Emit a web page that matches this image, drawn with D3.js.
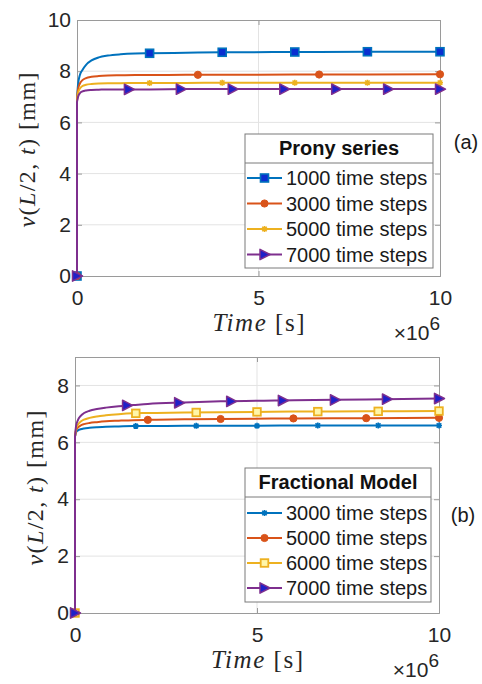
<!DOCTYPE html>
<html><head><meta charset="utf-8">
<script src="https://cdn.jsdelivr.net/npm/d3@7"></script>
<style>body{margin:0;background:#fff}svg{display:block}</style>
</head><body>
<svg id="c" width="482" height="684"></svg>
<script>
// ---------- shared ----------
const tCurve = [0, 0.03, 0.08, 0.15, 0.25, 0.4, 0.6, 0.85, 1.2, 1.6, 2, 3, 4, 6, 8, 10];
const xTicks = [0, 5, 10];
const colors = ["#0072BD", "#D95319", "#EDB120", "#7E2F8E"];

// ---------- panel (a): Prony series ----------
const pronyTitle = "Prony series";
const pronyLabels = ["1000 time steps", "3000 time steps", "5000 time steps", "7000 time steps"];
const pronyYTicks = [0, 2, 4, 6, 8, 10];
const prony1000 = [6.95, 7.50, 7.85, 8.05, 8.25, 8.42, 8.54, 8.61, 8.66, 8.69, 8.70, 8.72, 8.74, 8.75, 8.76, 8.76];
const prony3000 = [6.90, 7.30, 7.52, 7.65, 7.73, 7.78, 7.81, 7.83, 7.84, 7.85, 7.85, 7.86, 7.86, 7.87, 7.87, 7.88];
const prony5000 = [6.85, 7.15, 7.32, 7.42, 7.47, 7.50, 7.52, 7.53, 7.53, 7.54, 7.54, 7.54, 7.55, 7.55, 7.55, 7.55];
const prony7000 = [6.80, 7.00, 7.14, 7.21, 7.25, 7.27, 7.28, 7.29, 7.29, 7.29, 7.29, 7.30, 7.30, 7.30, 7.30, 7.30];
const pronyMarkT1000 = [0, 2, 4, 6, 8, 10];
const pronyMarkV1000 = [0, 8.70, 8.74, 8.75, 8.76, 8.76];
const pronyMarkT3000 = [0, 3.33, 6.67, 10];
const pronyMarkV3000 = [0, 7.86, 7.87, 7.88];
const pronyMarkT5000 = [0, 2, 4, 6, 8, 10];
const pronyMarkV5000 = [0, 7.54, 7.55, 7.55, 7.55, 7.55];
const pronyMarkT7000 = [0, 1.43, 2.86, 4.29, 5.71, 7.14, 8.57, 10];
const pronyMarkV7000 = [0, 7.29, 7.30, 7.30, 7.30, 7.30, 7.30, 7.30];

// ---------- panel (b): Fractional model ----------
const fracTitle = "Fractional Model";
const fracLabels = ["3000 time steps", "5000 time steps", "6000 time steps", "7000 time steps"];
const fracYTicks = [0, 2, 4, 6, 8];
const frac3000 = [6.20, 6.35, 6.42, 6.46, 6.49, 6.51, 6.53, 6.55, 6.56, 6.57, 6.57, 6.58, 6.58, 6.59, 6.59, 6.59];
const frac5000 = [6.20, 6.42, 6.52, 6.59, 6.64, 6.68, 6.71, 6.74, 6.76, 6.78, 6.79, 6.81, 6.82, 6.84, 6.85, 6.86];
const frac6000 = [6.20, 6.48, 6.62, 6.72, 6.80, 6.86, 6.91, 6.95, 6.99, 7.02, 7.03, 7.05, 7.06, 7.08, 7.09, 7.10];
const frac7000 = [6.20, 6.58, 6.78, 6.92, 7.03, 7.11, 7.17, 7.22, 7.27, 7.31, 7.35, 7.40, 7.44, 7.48, 7.51, 7.54];
const fracMarkT3000 = [0, 1.67, 3.33, 5, 6.67, 8.33, 10];
const fracMarkV3000 = [0, 6.57, 6.58, 6.58, 6.59, 6.59, 6.59];
const fracMarkT5000 = [0, 2, 4, 6, 8, 10];
const fracMarkV5000 = [0, 6.79, 6.82, 6.84, 6.85, 6.86];
const fracMarkT6000 = [0, 1.67, 3.33, 5, 6.67, 8.33, 10];
const fracMarkV6000 = [0, 7.02, 7.05, 7.07, 7.08, 7.09, 7.10];
const fracMarkT7000 = [0, 1.43, 2.86, 4.29, 5.71, 7.14, 8.57, 10];
const fracMarkV7000 = [0, 7.30, 7.39, 7.44, 7.47, 7.49, 7.52, 7.54];

const svg = d3.select("#c");
const SANS = "'Liberation Sans', Arial, sans-serif";
const SERIF = "'Liberation Serif', 'Times New Roman', serif";

function marker(g, type, x, y, color) {
  if (type === "square") {
    g.append("rect").attr("x", x - 4).attr("y", y - 4).attr("width", 8).attr("height", 8)
      .attr("fill", "#0a2fd0").attr("stroke", color).attr("stroke-width", 1.6);
  } else if (type === "squareOpen") {
    g.append("rect").attr("x", x - 3.8).attr("y", y - 3.8).attr("width", 7.6).attr("height", 7.6)
      .attr("fill", "#fff6a8").attr("stroke", color).attr("stroke-width", 1.8);
  } else if (type === "circle") {
    g.append("circle").attr("cx", x).attr("cy", y).attr("r", 3.6).attr("fill", color).attr("stroke", color);
  } else if (type === "star") {
    const s = 3;
    g.append("path").attr("d", `M${x - s},${y}L${x + s},${y}M${x},${y - s}L${x},${y + s}M${x - s * 0.75},${y - s * 0.75}L${x + s * 0.75},${y + s * 0.75}M${x - s * 0.75},${y + s * 0.75}L${x + s * 0.75},${y - s * 0.75}`)
      .attr("stroke", color).attr("stroke-width", 1.6).attr("fill", "none");
  } else if (type === "triangle") {
    g.append("path").attr("d", `M${x - 4.5},${y - 5.2}L${x + 5.5},${y}L${x - 4.5},${y + 5.2}Z`)
      .attr("fill", "#2020c8").attr("stroke", color).attr("stroke-width", 1.5).attr("stroke-linejoin", "round");
  }
}

function panel(cfg) {
  const x = d3.scaleLinear().domain([0, 10]).range([cfg.left, cfg.right]);
  const y = d3.scaleLinear().domain([0, cfg.ymax]).range([cfg.bottom, cfg.top]);
  const g = svg.append("g");

  // grid
  g.selectAll(".gy").data(cfg.yTicks.filter(v => v > 0 && v < cfg.ymax)).enter().append("line")
    .attr("x1", cfg.left).attr("x2", cfg.right).attr("y1", d => y(d)).attr("y2", d => y(d))
    .attr("stroke", "#e3e3e3").attr("stroke-width", 1);
  g.selectAll(".gx").data(xTicks.filter(v => v > 0 && v < 10)).enter().append("line")
    .attr("y1", cfg.top).attr("y2", cfg.bottom).attr("x1", d => x(d)).attr("x2", d => x(d))
    .attr("stroke", "#e3e3e3").attr("stroke-width", 1);

  // axes (tick labels via d3 axes)
  const ax = g.append("g").attr("transform", `translate(0,${cfg.bottom})`)
    .call(d3.axisBottom(x).tickValues(xTicks).tickSize(-5).tickPadding(14).tickFormat(d3.format("d")));
  const ay = g.append("g").attr("transform", `translate(${cfg.left},0)`)
    .call(d3.axisLeft(y).tickValues(cfg.yTicks).tickSize(-5).tickPadding(6).tickFormat(d3.format("d")));
  const axT = g.append("g").attr("transform", `translate(0,${cfg.top})`)
    .call(d3.axisTop(x).tickValues(xTicks).tickSize(-5).tickFormat(""));
  const ayR = g.append("g").attr("transform", `translate(${cfg.right},0)`)
    .call(d3.axisRight(y).tickValues(cfg.yTicks).tickSize(-5).tickFormat(""));
  [ax, ay, axT, ayR].forEach(a => {
    a.select(".domain").attr("stroke", "#9a9a9a").attr("stroke-width", 1);
    a.selectAll(".tick line").attr("stroke", "#9a9a9a");
    a.selectAll("text").attr("font-family", SANS).attr("font-size", 21).attr("fill", "#262626");
  });

  // series
  const line = d3.line().x(d => x(d[0])).y(d => y(d[1])).curve(d3.curveMonotoneX);
  cfg.series.forEach((s, i) => {
    const pts = tCurve.map((t, k) => [t, s.v[k]]);
    const p = line(pts);
    g.append("path").attr("d", `M${x(0)},${y(0)}` + p.replace(/^M/, "L"))
      .attr("fill", "none").attr("stroke", colors[i]).attr("stroke-width", 2);
    s.mt.forEach((t, k) => marker(g, s.m, x(t), y(s.mv[k]), colors[i]));
  });

  // legend
  const L = cfg.legend;
  const lg = g.append("g");
  lg.append("rect").attr("x", L.x0).attr("y", L.y0).attr("width", L.x1 - L.x0).attr("height", L.y1 - L.y0)
    .attr("fill", "#fff").attr("stroke", "#7a7a7a").attr("stroke-width", 1);
  lg.append("line").attr("x1", L.x0).attr("x2", L.x1).attr("y1", L.sep).attr("y2", L.sep)
    .attr("stroke", "#7a7a7a").attr("stroke-width", 1);
  lg.append("text").attr("x", (L.x0 + L.x1) / 2).attr("y", L.titleY).attr("text-anchor", "middle")
    .attr("font-family", SANS).attr("font-weight", "bold").attr("font-size", 20).attr("fill", "#111")
    .text(L.title);
  cfg.series.forEach((s, i) => {
    const cy = L.row0 + i * L.dy;
    lg.append("line").attr("x1", L.x0 + 2).attr("x2", L.x0 + 37).attr("y1", cy).attr("y2", cy)
      .attr("stroke", colors[i]).attr("stroke-width", 2);
    marker(lg, s.m, L.x0 + 19.5, cy, colors[i]);
    lg.append("text").attr("x", L.x0 + 41).attr("y", cy).attr("dy", "0.36em")
      .attr("font-family", SANS).attr("font-size", 20).attr("fill", "#1a1a1a").text(L.labels[i]);
  });

  // y label
  const yl = g.append("text").attr("transform", `translate(${cfg.ylx},${(cfg.top + cfg.bottom) / 2 + cfg.ylShift}) rotate(-90)`)
    .attr("text-anchor", "middle").attr("dy", "0.32em").attr("font-family", SERIF).attr("font-size", 24)
    .attr("fill", "#262626").attr("textLength", 155).attr("lengthAdjust", "spacing");
  yl.append("tspan").attr("font-style", "italic").text("v");
  yl.append("tspan").text("(");
  yl.append("tspan").attr("font-style", "italic").text("L");
  yl.append("tspan").text("/2, ");
  yl.append("tspan").attr("font-style", "italic").text("t");
  yl.append("tspan").text(") [mm]");

  // x label
  const xl = g.append("text").attr("x", x(5)).attr("y", cfg.bottom + 55).attr("text-anchor", "middle")
    .attr("font-family", SERIF).attr("font-size", 25).attr("fill", "#262626")
    .attr("textLength", 92).attr("lengthAdjust", "spacing");
  xl.append("tspan").attr("font-style", "italic").text("Time");
  xl.append("tspan").text(" [s]");

  // exponent
  const ex = g.append("text").attr("x", cfg.right).attr("y", cfg.bottom + 64).attr("text-anchor", "end")
    .attr("font-family", SANS).attr("font-size", 21).attr("fill", "#262626");
  ex.append("tspan").text("×10");
  ex.append("tspan").attr("dy", -10).attr("font-size", 19).text("6");

  // panel tag
  g.append("text").attr("x", cfg.tagX).attr("y", cfg.tagY).attr("text-anchor", "middle")
    .attr("font-family", SANS).attr("font-size", 20).attr("fill", "#1a1a1a").text(cfg.tag);
}

panel({
  left: 77, right: 440, top: 20, bottom: 276, ymax: 10, yTicks: pronyYTicks,
  ylx: 27, ylShift: 2, tag: "(a)", tagX: 466, tagY: 149,
  series: [
    { v: prony1000, m: "square", mt: pronyMarkT1000, mv: pronyMarkV1000 },
    { v: prony3000, m: "circle", mt: pronyMarkT3000, mv: pronyMarkV3000 },
    { v: prony5000, m: "star", mt: pronyMarkT5000, mv: pronyMarkV5000 },
    { v: prony7000, m: "triangle", mt: pronyMarkT7000, mv: pronyMarkV7000 }
  ],
  legend: { x0: 245, x1: 433, y0: 134, y1: 268, sep: 163, titleY: 155, row0: 178, dy: 25.5,
            title: pronyTitle, labels: pronyLabels }
});

panel({
  left: 75, right: 439, top: 357, bottom: 613, ymax: 9, yTicks: fracYTicks,
  ylx: 35, ylShift: 3, tag: "(b)", tagX: 463, tagY: 522,
  series: [
    { v: frac3000, m: "star", mt: fracMarkT3000, mv: fracMarkV3000 },
    { v: frac5000, m: "circle", mt: fracMarkT5000, mv: fracMarkV5000 },
    { v: frac6000, m: "squareOpen", mt: fracMarkT6000, mv: fracMarkV6000 },
    { v: frac7000, m: "triangle", mt: fracMarkT7000, mv: fracMarkV7000 }
  ],
  legend: { x0: 245, x1: 431, y0: 468, y1: 602, sep: 497, titleY: 489, row0: 513, dy: 25,
            title: fracTitle, labels: fracLabels }
});
</script>
</body></html>
